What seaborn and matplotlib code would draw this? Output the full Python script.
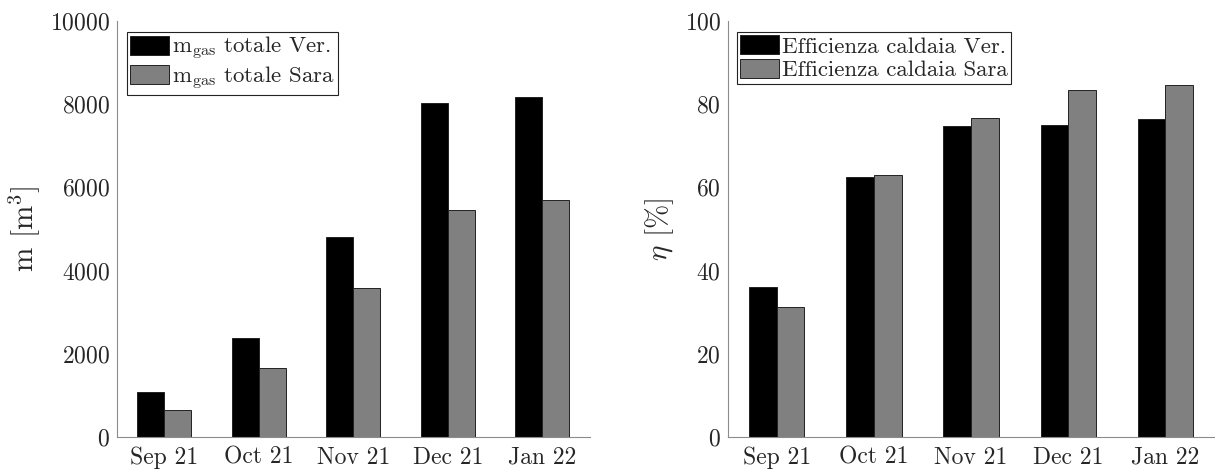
import matplotlib
matplotlib.use("Agg")
import matplotlib.pyplot as plt
import seaborn as sns
import pandas as pd

# data
months = ["Sep 21", "Oct 21", "Nov 21", "Dec 21", "Jan 22"]
gas_ver = [1080, 2390, 4800, 8030, 8170]
gas_sara = [650, 1670, 3580, 5460, 5700]
eff_ver = [36.0, 62.6, 74.8, 75.1, 76.4]
eff_sara = [31.2, 63.0, 76.7, 83.3, 84.5]

gas_labels = [r"m$_{\rm gas}$ totale Ver.", r"m$_{\rm gas}$ totale Sara"]
eff_labels = ["Efficienza caldaia Ver.", "Efficienza caldaia Sara"]

df_gas = pd.DataFrame({
    "month": months * 2,
    "value": gas_ver + gas_sara,
    "series": [gas_labels[0]] * 5 + [gas_labels[1]] * 5,
})
df_eff = pd.DataFrame({
    "month": months * 2,
    "value": eff_ver + eff_sara,
    "series": [eff_labels[0]] * 5 + [eff_labels[1]] * 5,
})

sns.set_style("white")
plt.rcParams["font.family"] = ["cmr10"]
plt.rcParams["mathtext.fontset"] = "cm"
plt.rcParams["axes.formatter.use_mathtext"] = True
plt.rcParams["axes.unicode_minus"] = False

c_axis = "#8c8c8c"
c_text = "#262626"
pal = ["#000000", "#808080"]

fig = plt.figure(figsize=(12.15, 4.73), dpi=100)
ax1 = fig.add_axes([0.0963, 0.0761, 0.389, 0.8795])
ax2 = fig.add_axes([0.5992, 0.0761, 0.4, 0.8795])


def draw(ax, df, ymax, yticks, ylabel, legx):
    sns.barplot(data=df, x="month", y="value", hue="series", palette=pal,
                width=0.57, edgecolor="#222222", linewidth=0.7,
                saturation=1, ax=ax)
    ax.set_xlim(-0.5, 4.5)
    ax.set_ylim(0, ymax)
    ax.set_yticks(yticks)
    ax.set_xlabel("")
    ax.set_ylabel(ylabel, fontsize=21, color=c_text, labelpad=6)
    sns.despine(ax=ax)
    for s in ["left", "bottom"]:
        ax.spines[s].set_color(c_axis)
        ax.spines[s].set_linewidth(0.8)
    ax.tick_params(axis="both", direction="in", length=3, width=0.8,
                   color=c_axis, labelsize=17, labelcolor=c_text, pad=5)
    ax.tick_params(axis="x", length=0, pad=7)
    leg = ax.legend(loc="upper left", bbox_to_anchor=(legx, 0.974),
                    borderaxespad=0, fontsize=16.5, fancybox=False,
                    framealpha=1, edgecolor="#222222", handlelength=1.7,
                    handleheight=0.9, handletextpad=0.1, labelspacing=0.1,
                    borderpad=0.15)
    leg.get_frame().set_linewidth(0.8)


draw(ax1, df_gas, 10000, [0, 2000, 4000, 6000, 8000, 10000],
     r"m [m$^3$]", 0.021)
draw(ax2, df_eff, 100, [0, 20, 40, 60, 80, 100],
     r"$\eta$ [%]", 0.0185)

fig.savefig("out.png", dpi=100)
